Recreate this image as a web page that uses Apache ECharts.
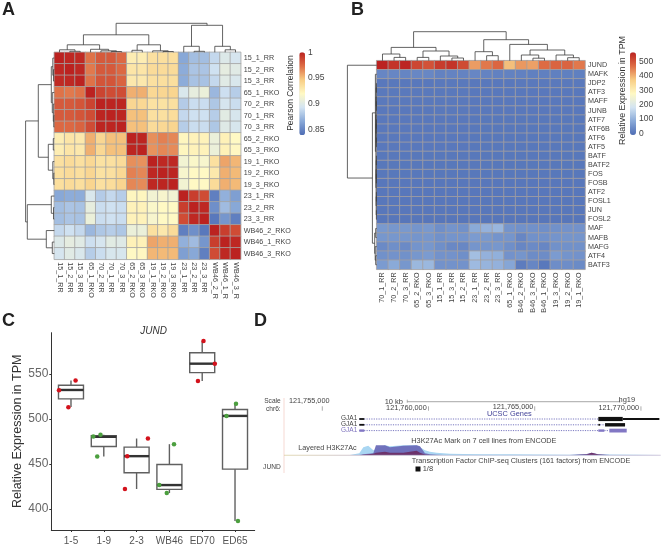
<!DOCTYPE html>
<html><head><meta charset="utf-8">
<style>html,body{margin:0;padding:0;background:#fff}#c{width:662px;height:546px}</style>
<script src="https://cdn.jsdelivr.net/npm/echarts@6/dist/echarts.min.js"></script>
</head><body><div id="c"></div>
<script>
// ---------- Panel A data ----------
const sampleRowsA = ['15_1_RR','15_2_RR','15_3_RR','65_1_RKO','70_2_RR','70_1_RR','70_3_RR','65_2_RKO','65_3_RKO','19_1_RKO','19_2_RKO','19_3_RKO','23_1_RR','23_2_RR','23_3_RR','WB46_2_RKO','WB46_1_RKO','WB46_3_RKO'];
const sampleColsA = ['15_1_RR','15_2_RR','15_3_RR','65_1_RKO','70_2_RR','70_1_RR','70_3_RR','65_2_RKO','65_3_RKO','19_1_RKO','19_2_RKO','19_3_RKO','23_1_RR','23_2_RR','23_3_RR','WB46_2_R','WB46_1_R','WB46_3_R'];
const correlation = [
[1,.998,.997,.972,.98,.98,.975,.927,.927,.935,.936,.936,.866,.876,.876,.888,.899,.895],
[.998,1,.998,.97,.98,.98,.975,.932,.932,.938,.938,.938,.868,.879,.879,.892,.904,.901],
[.997,.998,1,.972,.982,.982,.977,.93,.93,.935,.936,.936,.868,.878,.878,.888,.901,.897],
[.972,.97,.972,1,.988,.985,.985,.955,.955,.94,.941,.942,.897,.905,.908,.873,.891,.883],
[.98,.98,.982,.988,1,.999,.999,.941,.94,.934,.934,.935,.882,.89,.89,.88,.895,.89],
[.98,.98,.982,.985,.999,1,.999,.95,.95,.935,.935,.937,.888,.892,.892,.883,.902,.896],
[.975,.975,.977,.985,.999,.999,1,.95,.95,.938,.94,.942,.883,.89,.89,.88,.9,.896],
[.927,.932,.93,.955,.941,.95,.95,1,.999,.964,.968,.966,.922,.924,.924,.908,.925,.92],
[.927,.932,.93,.955,.94,.95,.95,.999,1,.963,.966,.965,.922,.924,.924,.908,.925,.921],
[.935,.938,.935,.94,.934,.935,.938,.964,.963,1,.998,.998,.912,.917,.915,.935,.958,.953],
[.936,.938,.936,.941,.934,.935,.94,.968,.966,.998,1,.999,.915,.92,.92,.93,.955,.952],
[.936,.938,.936,.942,.935,.937,.942,.966,.965,.998,.999,1,.912,.92,.92,.938,.955,.952],
[.866,.868,.868,.897,.882,.888,.883,.922,.922,.912,.915,.912,1,.99,.985,.848,.87,.862],
[.876,.879,.878,.905,.89,.892,.89,.924,.924,.917,.92,.92,.99,1,.998,.855,.875,.866],
[.876,.879,.878,.908,.89,.892,.89,.924,.924,.915,.92,.92,.985,.998,1,.845,.858,.848],
[.888,.892,.888,.873,.88,.883,.88,.908,.908,.935,.93,.938,.848,.855,.845,1,.99,.985],
[.899,.904,.901,.891,.895,.902,.9,.925,.925,.958,.955,.955,.87,.875,.858,.99,1,.998],
[.895,.901,.897,.883,.89,.896,.896,.92,.921,.953,.952,.952,.862,.866,.848,.985,.998,1]
];
const corrTicks = [0.85,0.9,0.95,1];
// dendrograms: [height, left, right], a number is a leaf index
const treeTopA = [29,[17.5,[7.5,[2.5,0,[1,1,2]],[3,3,[1.5,4,[0.8,5,6]]]],[7.5,[2,7,8],[1.5,9,[0.8,10,11]]]],[27,[6,12,[1,13,14]],[6,15,[2.5,16,17]]]];
const treeLeftA = [28.7,[16,[3,[1.5,0,[0.8,1,2]],[2,3,[1,4,[0.5,5,6]]]],[6,[1,7,8],[1.5,9,[0.5,10,11]]]],[27,[3,12,[0.8,13,14]],[8,15,[2,16,17]]]];

// ---------- Panel B data ----------
const geneRowsB = ['JUND','MAFK','JDP2','ATF3','MAFF','JUNB','ATF7','ATF6B','ATF6','ATF5','BATF','BATF2','FOS','FOSB','ATF2','FOSL1','JUN','FOSL2','MAF','MAFB','MAFG','ATF4','BATF3'];
const sampleColsB = ['70_1_RR','70_2_RR','70_3_RR','65_2_RKO','65_3_RKO','15_1_RR','15_3_RR','15_2_RR','23_1_RR','23_2_RR','23_3_RR','65_1_RKO','B46_2_RKO','B46_3_RKO','B46_1_RKO','19_3_RKO','19_2_RKO','19_1_RKO'];
const expression = [
[586,542,561,517,503,532,542,513,422,458,478,387,426,418,472,481,480,458],
[28,28,26,30,30,22,24,24,28,24,20,22,20,18,18,18,18,18],
[6,6,6,6,6,8,8,8,6,6,6,6,8,8,8,8,8,8],
[8,8,8,8,8,8,8,8,6,6,6,6,6,6,6,6,6,6],
[8,8,8,8,8,8,8,8,6,6,6,6,6,6,6,6,6,6],
[6,6,6,6,6,8,8,8,6,6,6,6,6,6,6,6,6,6],
[6,6,6,6,6,6,6,6,5,5,5,5,5,5,5,5,5,5],
[6,6,6,6,6,6,6,6,5,5,5,5,5,5,5,5,5,5],
[6,6,6,6,6,6,6,6,5,5,5,5,5,5,5,5,5,5],
[6,6,6,6,6,6,6,6,5,5,5,5,5,5,5,5,5,5],
[5,5,5,5,5,5,5,5,5,5,5,5,5,5,5,5,5,5],
[5,5,5,5,5,5,5,5,5,5,5,5,5,5,5,5,5,5],
[5,5,5,5,5,5,5,5,5,5,5,5,5,5,5,5,5,5],
[4,4,4,4,4,4,4,4,4,4,4,4,4,4,4,4,4,4],
[4,4,4,4,4,4,4,4,4,4,4,4,4,4,4,4,4,4],
[4,4,4,4,4,4,4,4,4,4,4,4,4,4,4,4,4,4],
[4,4,4,4,4,4,4,4,4,4,4,4,4,4,4,4,4,4],
[3,3,3,3,3,3,3,3,3,3,3,3,3,3,3,3,3,3],
[58,55,58,52,58,42,50,45,85,98,105,50,45,45,42,45,48,48],
[55,55,55,52,55,45,50,50,62,58,50,52,28,45,45,50,52,52],
[35,42,35,50,55,42,32,30,52,52,55,42,28,35,28,45,45,45],
[45,48,45,55,62,48,48,42,118,98,95,48,52,38,38,62,50,48],
[62,85,55,108,108,48,48,48,112,102,98,80,12,28,6,40,40,36]
];
const exprTicks = [0,100,200,300,400,500];
const treeTopB = [29,[13.3,[6.7,0,[3.3,1,2]],[9.7,[3.3,3,4],[4.7,5,[2.7,6,7]]]],[21,[9,8,[5,9,10]],[16.3,11,[10.7,[5.7,12,[2.5,13,14]],[5.7,15,[3,16,17]]]]]];
const treeLeftB = [29.3,0,[4.3,[1.3,1,[0.8,[0.6,[0.5,[0.3,2,3],[0.3,4,5]],[0.5,[0.3,6,7],[0.3,8,9]]],[0.6,[0.5,[0.3,10,11],[0.3,12,13]],[0.5,[0.3,14,15],[0.3,16,17]]]]],[2,[1,18,19],[1.5,20,[1,21,22]]]]];

// ---------- Panel C data ----------
const groups = ['1-5','1-9','2-3','WB46','ED70','ED65'];
// [group position, whisker low, q1, median, q3, whisker high]
const boxStats = [
[1,513.4,522.3,532.2,537.4,542.6],
[2,458.4,469.4,480.2,481.3,482.4],
[3,422.2,440.3,458.7,468.7,478.3],
[4,417.7,421.8,426.6,449.5,472],
[5,542.2,551.5,561.4,573.6,586.5],
[6,386.8,444.3,503.4,510.5,517]
];
const redPoints = [[1.14,542.6],[0.635,532],[0.92,513],[3.345,478.3],[2.715,458.7],[2.645,422.2],[5.04,586.5],[5.385,561.4],[4.87,542.2]];
const greenPoints = [[1.68,480.5],[1.9,482.4],[1.8,458.4],[4.14,472],[3.69,426.6],[3.92,417.7],[6.03,517],[5.74,503.4],[6.09,386.8]];
const tpmTicks = [400,450,500,550];

// ---------- Panel D data (hg19 chr6) ----------
const browserTicks = [121755000,121760000,121765000,121770000];
const scaleBar = [121759000,121769000];
// [track, start, end, kind]; kind 0 intron line, 1 thin block, 2 thick block
const geneBlocks = [
[1,121756742,121767994,0],[1,121756742,121756977,1],[1,121767994,121769143,2],[1,121769143,121770867,1],
[2,121756742,121767994,0],[2,121756742,121756977,1],[2,121767994,121768075,1],[2,121768075,121768310,0],[2,121768310,121769252,2],
[3,121756742,121767994,0],[3,121756742,121756977,1],[3,121767994,121768277,1],[3,121768277,121768512,0],[3,121768512,121769330,2]
];
const h3kPos = [121753196,121756302,121756742,121756930,121757165,121757401,121757526,121757950,121758185,121758813,121759440,121759597,121759833,121760068,121760382,121760695,121761009,121761637,121762578,121763833,121765089,121766658,121767442,121767678,121767992,121768541,121769796,121770925];
const h3kLight = [.3,.3,2,8,9.5,5,6,10,9,10,10,8,5,3.5,2.5,2,1.5,1.2,1,1,.8,.6,1,1.5,1,.8,.5,.4];
const h3kPurple = [0,0,.3,1,1.5,2,10,10,8,9.5,10,9,2,1,.5,.4,.3,.2,.2,.2,.2,.2,1.2,2.5,1,.3,.2,.2];
const h3kMaroon = [0,0,0,.5,1,1.5,2.5,3.5,2.5,2.5,4.5,2.5,.8,.4,.2,.1,.1,.1,.1,.1,.1,.1,.8,2.5,.8,.1,.1,.1];

// ---------- helpers ----------
const FONT = '"Liberation Sans", Arial, sans-serif';
const PALETTE = ['#4E6DB5','#89A9D8','#D3E4F2','#FFF9C4','#F8CD84','#DE6D45','#BB2220'];
const AX = 54.3, AY = 52.3, AW = 186.4, AH = 207;
const BX = 376.7, BY = 60.7, BW = 208.3, BH = 208.6;
const DX = 284, DW = 376.7;
const GENOME = {min:121753197, max:121770930};

const grids = [], xAxes = [], yAxes = [], series = [];
function addGrid(g, x, y){ grids.push(Object.assign({containLabel:false}, g)); xAxes.push(Object.assign({gridIndex:grids.length-1}, x)); yAxes.push(Object.assign({gridIndex:grids.length-1}, y)); return grids.length-1; }
const hidden = (a)=>Object.assign({type:'value', show:false, scale:true}, a);
function heatData(m){ const d=[]; m.forEach((r,i)=>r.forEach((v,j)=>d.push([j,i,v]))); return d; }
function links(node, out){ // returns [pos, height]
  if(typeof node === 'number') return [node+0.5, 0];
  const a = links(node[1], out), b = links(node[2], out);
  out.push([a[0],a[1],b[0],b[1],node[0]]);
  return [(a[0]+b[0])/2, node[0]];
}
function dendro(idx, tree, horizontal, color){
  const d=[]; links(tree,d);
  series.push({type:'custom', xAxisIndex:idx, yAxisIndex:idx, clip:false, silent:true, data:d,
    renderItem(p,api){
      const P=(pos,h)=>api.coord(horizontal?[h,pos]:[pos,h]);
      const v=i=>api.value(i);
      return {type:'polyline', shape:{points:[P(v(0),v(1)),P(v(0),v(4)),P(v(2),v(4)),P(v(2),v(3))]}, style:{fill:null, stroke:color, lineWidth:0.8}};
    }});
}
function heatAxisBase(){ return {type:'category', splitArea:{show:false}, axisLine:{show:false}, axisTick:{show:false}}; }
const labelStyle = {fontFamily:FONT, fontSize:7.2, color:'#444'};

// ---------- A ----------
const gA = addGrid({left:AX, top:AY, width:AW, height:AH},
  Object.assign(heatAxisBase(), {data:sampleColsA, position:'bottom', axisLabel:Object.assign({interval:0, rotate:-90, margin:3}, labelStyle)}),
  Object.assign(heatAxisBase(), {data:sampleRowsA, inverse:true, position:'right', axisLabel:Object.assign({interval:0, margin:3}, labelStyle)}));
series.push({type:'heatmap', name:'corr', xAxisIndex:gA, yAxisIndex:gA, data:heatData(correlation), itemStyle:{borderColor:'#a5a5a5', borderWidth:0.8}, emphasis:{disabled:true}, silent:true});
const seriesCorr = series.length-1;
// ---------- B ----------
const gB = addGrid({left:BX, top:BY, width:BW, height:BH},
  Object.assign(heatAxisBase(), {data:sampleColsB, position:'bottom', axisLabel:Object.assign({interval:0, rotate:90, margin:3}, labelStyle)}),
  Object.assign(heatAxisBase(), {data:geneRowsB, inverse:true, position:'right', axisLabel:Object.assign({interval:0, margin:3}, labelStyle)}));
series.push({type:'heatmap', name:'expr', xAxisIndex:gB, yAxisIndex:gB, data:heatData(expression), itemStyle:{borderColor:'#a5a0a0', borderWidth:0.8}, emphasis:{disabled:true}, silent:true});
const seriesExpr = series.length-1;
// ---------- dendrograms ----------
dendro(addGrid({left:AX, top:AY-29.5, width:AW, height:29.5}, hidden({min:0,max:18}), hidden({min:0,max:29.5})), treeTopA, false, '#3c3c3c');
dendro(addGrid({left:AX-29.5, top:AY, width:29.5, height:AH}, hidden({min:0,max:29.5,inverse:true}), hidden({min:0,max:18,inverse:true})), treeLeftA, true, '#3c3c3c');
dendro(addGrid({left:BX, top:BY-29.5, width:BW, height:29.5}, hidden({min:0,max:18}), hidden({min:0,max:29.5})), treeTopB, false, '#3c3c3c');
dendro(addGrid({left:BX-29.5, top:BY, width:29.5, height:BH}, hidden({min:0,max:29.5,inverse:true}), hidden({min:0,max:23,inverse:true})), treeLeftB, true, '#3c3c3c');
// ---------- colourbar axes ----------
function barAxis(left, width, min, max, ticks){
  addGrid({left:left, top:52.3, width:width, height:82.7}, hidden({min:0,max:1}),
   {type:'value', min:min, max:max, position:'right', splitLine:{show:false}, axisLine:{show:false}, axisTick:{show:false},
    axisLabel:{customValues:ticks, formatter:v=>String(v), margin:3, fontFamily:FONT, fontSize:8.5, color:'#444'}});
}
barAxis(299.3, 5.7, 0.84, 1, corrTicks);
barAxis(630, 6, -12, 565, exprTicks);
// ---------- C ----------
const gC = addGrid({left:51.3, top:332.7, width:203.4, height:197.6},
  {type:'value', min:0.4, max:6.6, splitLine:{show:false}, axisLine:{lineStyle:{color:'#333',width:1}},
   axisTick:{customValues:[1,2,3,4,5,6], length:2, lineStyle:{color:'#333'}},
   axisLabel:{customValues:[1,2,3,4,5,6], formatter:v=>groups[Math.round(v)-1], fontFamily:FONT, fontSize:10, color:'#555', margin:6}},
  {type:'value', min:376.7, max:595.8, splitLine:{show:false}, axisLine:{show:true, lineStyle:{color:'#333',width:1}},
   axisTick:{show:true, customValues:tpmTicks, length:2, lineStyle:{color:'#333'}},
   axisLabel:{customValues:tpmTicks, formatter:v=>String(v), fontFamily:FONT, fontSize:12, color:'#666', margin:3},
   name:'Relative Expression in TPM', nameLocation:'middle', nameGap:21, nameTextStyle:{fontFamily:FONT, fontSize:12.5, color:'#333'}});
series.push({type:'custom', xAxisIndex:gC, yAxisIndex:gC, clip:false, silent:true, data:boxStats,
  renderItem(p,api){
    const x=api.value(0), W=12.5, stroke={stroke:'#606060', fill:null, lineWidth:1.4};
    const C=v=>api.coord([x,v]);
    const lo=C(api.value(1)), q1=C(api.value(2)), med=C(api.value(3)), q3=C(api.value(4)), hi=C(api.value(5));
    return {type:'group', children:[
      {type:'line', shape:{x1:lo[0],y1:lo[1],x2:q1[0],y2:q1[1]}, style:stroke},
      {type:'line', shape:{x1:q3[0],y1:q3[1],x2:hi[0],y2:hi[1]}, style:stroke},
      {type:'rect', shape:{x:q3[0]-W,y:q3[1],width:2*W,height:q1[1]-q3[1]}, style:stroke},
      {type:'line', shape:{x1:med[0]-W,y1:med[1],x2:med[0]+W,y2:med[1]}, style:{stroke:'#333',lineWidth:2.4}}
    ]};
  }});
series.push({type:'scatter', xAxisIndex:gC, yAxisIndex:gC, data:redPoints, symbolSize:4.5, itemStyle:{color:'#d3121c', opacity:1}, silent:true});
series.push({type:'scatter', xAxisIndex:gC, yAxisIndex:gC, data:greenPoints, symbolSize:4.5, itemStyle:{color:'#4c9f3f', opacity:1}, silent:true});
// ---------- D ----------
const gD = addGrid({left:DX, top:398, width:DW, height:36}, hidden(GENOME), hidden({min:0,max:36,inverse:true}));
const trackY = [21,26.8,32.6];
series.push({type:'custom', xAxisIndex:gD, yAxisIndex:gD, clip:false, silent:true, data:geneBlocks,
  renderItem(p,api){
    const tr=api.value(0), kind=api.value(3), y=trackY[tr-1];
    const a=api.coord([api.value(1),y]), b=api.coord([api.value(2),y]);
    const col = tr===3?'#8277c4':'#111';
    if(kind===0) return {type:'line', shape:{x1:a[0],y1:a[1],x2:b[0],y2:b[1]}, style:{stroke:'#7a78c0',lineWidth:1,lineDash:[1.2,1.2]}};
    const h = kind===2?(tr===3?3.8:tr===2?3.4:4.2):(tr===3?2.4:1.8);
    return {type:'rect', shape:{x:a[0],y:a[1]-h/2,width:b[0]-a[0],height:h}, style:{fill:col}};
  }});
series.push({type:'custom', xAxisIndex:gD, yAxisIndex:gD, clip:false, silent:true, data:browserTicks.map(v=>[v]),
  renderItem(p,api){ const a=api.coord([api.value(0),8.3]), b=api.coord([api.value(0),12.7]);
    return {type:'line', shape:{x1:a[0],y1:a[1],x2:b[0],y2:b[1]}, style:{stroke:'#888',lineWidth:0.7}}; }});
series.push({type:'custom', xAxisIndex:gD, yAxisIndex:gD, clip:false, silent:true, data:[scaleBar],
  renderItem(p,api){ const a=api.coord([api.value(0),3.7]), b=api.coord([api.value(1),3.7]);
    return {type:'group',children:[
      {type:'line', shape:{x1:a[0],y1:a[1],x2:b[0],y2:b[1]}, style:{stroke:'#b8b8b8',lineWidth:1.2}},
      {type:'line', shape:{x1:a[0],y1:a[1]-2,x2:a[0],y2:a[1]+1}, style:{stroke:'#888',lineWidth:0.7}},
      {type:'line', shape:{x1:b[0],y1:b[1]-2,x2:b[0],y2:b[1]+1}, style:{stroke:'#888',lineWidth:0.7}}]}; }});
const gL = addGrid({left:DX, top:445, width:DW, height:10.3}, hidden(GENOME), hidden({min:0,max:10.3}));
function layer(vals,color,opacity){
  series.push({type:'line', xAxisIndex:gL, yAxisIndex:gL, data:h3kPos.map((g,i)=>[g,vals[i]]), showSymbol:false, silent:true,
    lineStyle:{width:0}, areaStyle:{color:color, opacity:opacity}});
}
layer(h3kLight,'#a9d6f2',1);
layer(h3kPurple,'#6c6bb8',0.95);
layer(h3kMaroon,'#6b2c63',0.9);
series.push({type:'line', xAxisIndex:gL, yAxisIndex:gL, data:[[GENOME.min,0],[GENOME.max,0]], showSymbol:false, silent:true,
  lineStyle:{width:0.8,color:{type:'linear',x:0,y:0,x2:1,y2:0,colorStops:[{offset:0,color:'#d8c88a'},{offset:.2,color:'#b9a6b8'},{offset:.6,color:'#a9b9d8'},{offset:1,color:'#b4a8c8'}]}}});

// ---------- texts ----------
function T(x,y,s,o){ o=o||{}; return {type:'text', x:x, y:y, rotation:o.rot||0, silent:true, z:50,
  style:{text:s, fontFamily:FONT, fontSize:o.size||7.3, fontWeight:o.weight||'normal', fontStyle:o.style||'normal', fill:o.color||'#444', align:o.align||'left', verticalAlign:'middle'}}; }
const texts = [
 T(2,10,'A',{size:18,weight:'bold',color:'#222'}), T(351,10,'B',{size:18,weight:'bold',color:'#222'}),
 T(2,321,'C',{size:18,weight:'bold',color:'#222'}), T(254,321,'D',{size:18,weight:'bold',color:'#222'}),
 T(291,93,'Pearson Correlation',{rot:Math.PI/2,align:'center',size:8.5,color:'#333'}),
 T(623,90.5,'Relative Expression in TPM',{rot:Math.PI/2,align:'center',size:8.9,color:'#333'}),
 T(153.7,331.7,'JUND',{style:'italic',align:'center',size:10,color:'#333'}),
 T(280.7,401.3,'Scale',{align:'right',size:6.6}), T(280.7,409.3,'chr6:',{align:'right',size:6.6}),
 T(280.7,466.7,'JUND',{align:'right',size:6.6}),
 T(329.5,400.7,'121,755,000',{align:'right'}), T(426.7,408.3,'121,760,000',{align:'right'}),
 T(533.3,406.7,'121,765,000',{align:'right'}), T(639,408.3,'121,770,000',{align:'right'}),
 T(403,401.7,'10 kb',{align:'right',size:7.5}), T(618.5,400,'hg19',{size:7.5}),
 T(509.3,414,'UCSC Genes',{align:'center',color:'#3f3f96',size:7.4}),
 T(357.3,418.7,'GJA1',{align:'right',size:6.5}), T(357.3,424,'GJA1',{align:'right',size:6.5}), T(357.3,430,'GJA1',{align:'right',size:6.5,color:'#7d72bd'}),
 T(356.7,447.7,'Layered H3K27Ac',{align:'right',size:7.2}),
 T(411.3,441.3,'H3K27Ac Mark on 7 cell lines from ENCODE',{size:7.3}),
 T(411.7,461,'Transcription Factor ChIP-seq Clusters (161 factors) from ENCODE',{size:7.3}),
 T(422.7,469,'1/8',{size:7.5}),
 {type:'rect', shape:{x:415.5,y:466.5,width:5,height:5}, style:{fill:'#111'}, silent:true},
 {type:'line', shape:{x1:284,y1:398,x2:284,y2:473}, style:{stroke:'#f4cfc8',lineWidth:0.8}, silent:true}
];

const chart = echarts.init(document.getElementById('c'), null, {renderer:'canvas'});
chart.setOption({
  animation:false, backgroundColor:'#fff', tooltip:{show:false},
  grid:grids, xAxis:xAxes, yAxis:yAxes, series:series, graphic:texts,
  visualMap:[
   {type:'continuous', seriesIndex:seriesCorr, dimension:2, min:0.84, max:1, left:299.3, top:52.3, itemWidth:5.7, itemHeight:82.7, padding:0, calculable:false, hoverLink:false, text:null, inRange:{color:PALETTE}},
   {type:'continuous', seriesIndex:seriesExpr, dimension:2, min:-12, max:565, left:630, top:52.3, itemWidth:6, itemHeight:82.7, padding:0, calculable:false, hoverLink:false, text:null, inRange:{color:PALETTE}}
  ]
});
</script></body></html>
